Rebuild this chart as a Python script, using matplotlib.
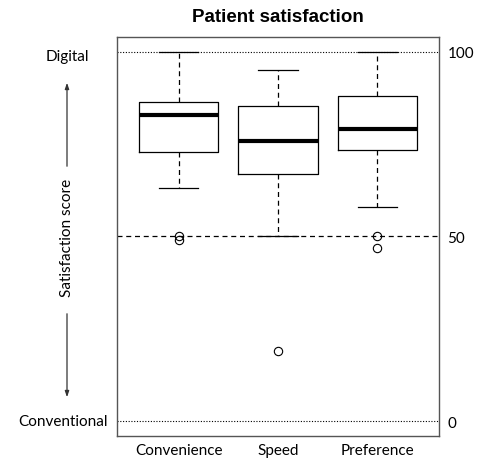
import matplotlib.pyplot as plt

plt.rcParams['font.family'] = ['Lato', 'DejaVu Sans']

# values
categories = ['Convenience', 'Speed', 'Preference']
whisker_lo = [63, 50, 58]
q1 = [72.9, 67.0, 73.4]
median = [83.0, 75.9, 79.0]
q3 = [86.4, 85.4, 87.9]
whisker_hi = [100, 95, 100]
outliers = [[50, 49], [19], [50, 47]]
ref_levels = [0, 50, 100]

stats = []
for i, name in enumerate(categories):
    stats.append({'label': name, 'whislo': whisker_lo[i], 'q1': q1[i],
                  'med': median[i], 'q3': q3[i], 'whishi': whisker_hi[i],
                  'fliers': outliers[i]})

fig = plt.figure(figsize=(4.81, 4.6), dpi=100)
ax = fig.add_axes([0.2432, 0.05, 0.6695, 0.8674])

ax.axhline(0, color='black', lw=0.8, ls=(0, (1, 1.5)), zorder=1)
ax.axhline(100, color='black', lw=0.8, ls=(0, (1, 1.5)), zorder=1)
ax.axhline(50, color='black', lw=0.9, ls=(0, (4, 3)), zorder=1)

ax.bxp(stats, positions=[1, 2, 3], widths=0.8, patch_artist=False,
       boxprops=dict(color='black', lw=0.9),
       whiskerprops=dict(color='black', lw=0.9, ls=(0, (4, 3))),
       capprops=dict(color='black', lw=0.9),
       medianprops=dict(color='black', lw=3),
       flierprops=dict(marker='o', markerfacecolor='none',
                       markeredgecolor='black', markersize=6, markeredgewidth=0.8),
       capwidths=0.4, zorder=3)

ax.set_xlim(0.38, 3.62)
ax.set_ylim(-4, 104)
ax.yaxis.tick_right()
ax.set_yticks(ref_levels)
ax.tick_params(axis='both', length=0, labelsize=11)
ax.tick_params(axis='x', pad=5)
ax.tick_params(axis='y', pad=6)
for s in ax.spines.values():
    s.set_color('#555555')
    s.set_linewidth(1.0)

fig.text(0.578, 1 - 18 / 460, 'Patient satisfaction', ha='center', va='center',
         fontsize=13.5, fontweight='bold', family=['Liberation Sans', 'DejaVu Sans'])

# left side labels
fig.text(67 / 481, 1 - 57 / 460, 'Digital', ha='center', va='center', fontsize=11)
fig.text(63 / 481, 1 - 422 / 460, 'Conventional', ha='center', va='center', fontsize=11)
fig.text(67 / 481, 1 - 238 / 460, 'Satisfaction score', ha='center', va='center',
         rotation=90, fontsize=11)
arrow = dict(arrowstyle='-|>,head_length=0.35,head_width=0.12', color='#333333', lw=0.9)
ax.annotate('', xy=(67 / 481, 1 - 81 / 460), xytext=(67 / 481, 1 - 170 / 460),
            xycoords='figure fraction', textcoords='figure fraction', arrowprops=arrow)
ax.annotate('', xy=(67 / 481, 1 - 401 / 460), xytext=(67 / 481, 1 - 312 / 460),
            xycoords='figure fraction', textcoords='figure fraction', arrowprops=arrow)

fig.savefig('out.png', dpi=100)
